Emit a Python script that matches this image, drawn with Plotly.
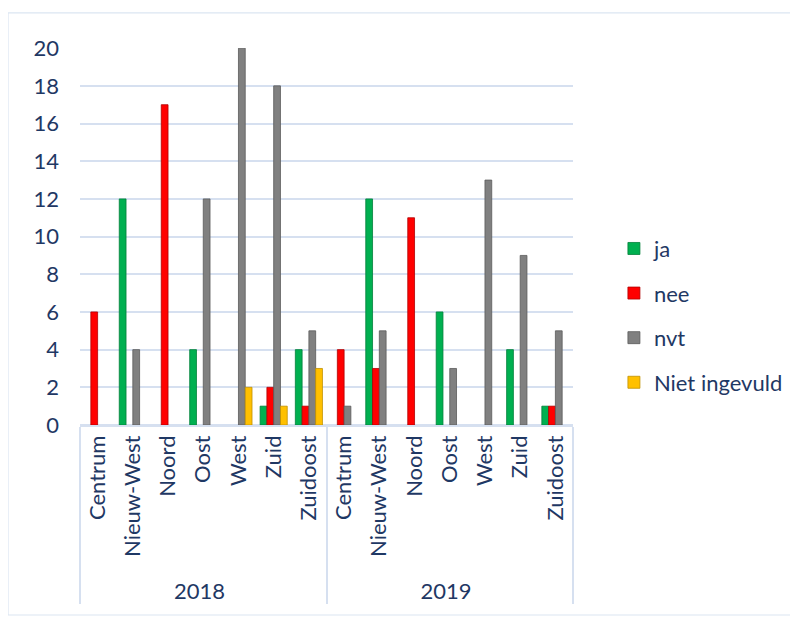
import plotly.graph_objects as go

years = ["2018"] * 7 + ["2019"] * 7
regions = ["Centrum", "Nieuw-West", "Noord", "Oost", "West", "Zuid", "Zuidoost"] * 2

ja = [0, 12, 0, 4, 0, 1, 4, 0, 12, 0, 6, 0, 4, 1]
nee = [6, 0, 17, 0, 0, 2, 1, 4, 3, 11, 0, 0, 0, 1]
nvt = [0, 4, 0, 12, 20, 18, 5, 1, 5, 0, 3, 13, 9, 5]
niet_ingevuld = [0, 0, 0, 0, 2, 1, 3, 0, 0, 0, 0, 0, 0, 0]

series = [
    ("ja", ja, "#00B050", "#00803a"),
    ("nee", nee, "#FF0000", "#b00000"),
    ("nvt", nvt, "#808080", "#5a5a5a"),
    ("Niet ingevuld", niet_ingevuld, "#FFC000", "#c09000"),
]

text_color = "#1F3864"
grid_color = "#D6E0F0"
font_family = "Lato, Open Sans, Liberation Sans, sans-serif"

fig = go.Figure()
for i, (name, vals, col, edge) in enumerate(series):
    fig.add_trace(go.Bar(
        name=name,
        x=[years, regions],
        y=[v if v else None for v in vals],
        marker=dict(color=col, line=dict(color=edge, width=0.8)),
        legendgroup=f"g{i}",
    ))

fig.update_layout(
    width=798, height=621,
    barmode="group",
    bargap=0.23, bargroupgap=0.0,
    plot_bgcolor="white", paper_bgcolor="white",
    margin=dict(l=72, r=233, t=40, b=204),
    font=dict(family=font_family, size=22, color=text_color),
    showlegend=True,
    legend=dict(
        x=1.083, y=0.29, xanchor="left", yanchor="middle",
        font=dict(size=22, color=text_color),
        tracegroupgap=13,
        bgcolor="rgba(0,0,0,0)",
    ),
    xaxis=dict(
        type="multicategory",
        tickangle=-90,
        showline=True, linecolor=grid_color, linewidth=1.5,
        showdividers=True, dividercolor=grid_color, dividerwidth=1.5,
        ticks="", showgrid=False,
        tickfont=dict(size=22, color=text_color),
    ),
    yaxis=dict(
        range=[0, 20.01],
        dtick=2,
        showgrid=True, gridcolor=grid_color, gridwidth=1.5,
        zeroline=True, zerolinecolor=grid_color, zerolinewidth=1.5,
        showline=False,
        ticks="", ticklabelstandoff=20,
        tickfont=dict(size=22, color=text_color),
    ),
    shapes=[
        dict(type="rect", xref="paper", yref="paper",
             x0=-0.146, x1=1.6, y0=-0.504, y1=1.093,
             line=dict(color="#DCE6F2", width=1.2), fillcolor="rgba(0,0,0,0)",
             layer="below"),
    ],
)

fig.write_html("out.html")
